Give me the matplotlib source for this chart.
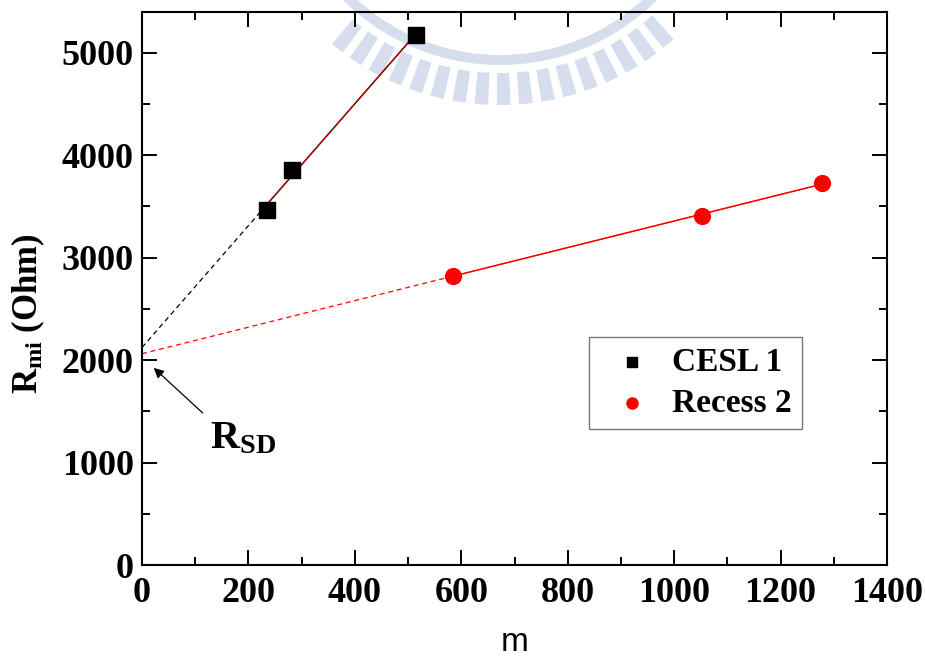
import numpy as np
import matplotlib
matplotlib.use("Agg")
import matplotlib.pyplot as plt
from matplotlib.patches import Wedge

# Measured data
cesl_m = [234, 282, 515]
cesl_r = [3467, 3857, 5176]
recess_m = [585, 1052, 1277]
recess_r = [2825, 3408, 3727]
series_labels = ["CESL 1", "Recess 2"]

x_ticks = [0, 200, 400, 600, 800, 1000, 1200, 1400]
y_ticks = [0, 1000, 2000, 3000, 4000, 5000]

plt.rcParams["mathtext.fontset"] = "custom"
plt.rcParams["mathtext.rm"] = "Liberation Serif:bold"
plt.rcParams["mathtext.bf"] = "Liberation Serif:bold"
plt.rcParams["mathtext.it"] = "Liberation Serif:bold"

W, H = 925, 663
fig = plt.figure(figsize=(W / 100, H / 100), dpi=100)

# faint emblem in the page background
bg = fig.add_axes([0, 0, 1, 1], zorder=0)
bg.set_xlim(0, W)
bg.set_ylim(H, 0)
bg.axis("off")
emb = "#d6ddec"
cx, cy = 500, -157
bg.add_patch(Wedge((cx, cy), 222, 20, 160, width=10, color=emb, lw=0))
for a in np.arange(50, 131, 4.9):
    bg.add_patch(Wedge((cx, cy), 262, a - 1.5, a + 1.5, width=32, color=emb, lw=0))

ax = fig.add_axes([142 / W, 1 - 565 / H, (887 - 142) / W, (565 - 11.7) / H], zorder=1)
ax.patch.set_alpha(0)

# linear fits with extrapolation to m = 0
for m, r, col in [(cesl_m, cesl_r, "black"), (recess_m, recess_r, "red")]:
    k, b = np.polyfit(m, r, 1)
    xs = np.array([0, min(m)])
    ax.plot(xs, k * xs + b, ls=(0, (4, 3)), color=col, lw=0.9, zorder=2)
    xf = np.array([min(m), max(m)])
    ax.plot(xf, k * xf + b, color=col, lw=1.1, zorder=2)
    ax.plot(xf, k * xf + b, color="red", lw=0.6, zorder=2)

ax.scatter(cesl_m, cesl_r, marker="s", s=120, color="black", zorder=3, label=series_labels[0])
ax.scatter(recess_m, recess_r, marker="o", s=130, color="red", zorder=3, label=series_labels[1])

ax.set_xlim(0, 1400)
ax.set_ylim(0, 5400)
ax.set_xticks(x_ticks)
ax.set_yticks(y_ticks)
ax.set_xticks(np.arange(100, 1400, 200), minor=True)
ax.set_yticks(np.arange(500, 5400, 1000), minor=True)

tick_font = dict(family="Liberation Serif", weight="bold", size=26)
ax.set_xticklabels([str(v) for v in x_ticks], fontdict=tick_font)
ax.set_yticklabels([str(v) for v in y_ticks], fontdict=tick_font)
ax.tick_params(which="both", direction="in", top=True, right=True, width=1.4, color="black")
ax.tick_params(which="major", length=11)
ax.tick_params(axis="x", which="major", pad=9)
ax.tick_params(axis="y", which="major", pad=6)
ax.tick_params(which="minor", length=6)
for s in ax.spines.values():
    s.set_linewidth(1.5)

ax.set_xlabel("m", family="Liberation Sans", size=24)
ax.xaxis.set_label_coords(0.5, -0.112)
ax.set_ylabel(r"$\mathrm{R_{mi}}$ (Ohm)", family="Liberation Serif", weight="bold", size=25)
ax.yaxis.set_label_coords(-0.128, 0.455)

# R_SD marker: arrow toward the common intercept plus its label
ax.annotate("", xy=(22, 1924), xytext=(114, 1484),
            arrowprops=dict(arrowstyle="-|>", color="black", lw=0.9,
                            mutation_scale=15, shrinkA=0, shrinkB=0))
ax.text(128, 1055, r"$\mathrm{R_{SD}}$", fontsize=29, ha="left", va="bottom")

leg = ax.legend(loc="upper left", bbox_to_anchor=((589 - 142) / 745, (565 - 336.7) / 553.3),
                borderaxespad=0,
                prop=dict(family="Liberation Serif", weight="bold", size=24),
                frameon=True, fancybox=False, edgecolor="#555555", borderpad=0.3,
                handletextpad=0.2, labelspacing=0.3, handlelength=2.0,
                markerscale=0.7)
leg.get_frame().set_linewidth(1.0)

fig.savefig("out.png", dpi=100)
